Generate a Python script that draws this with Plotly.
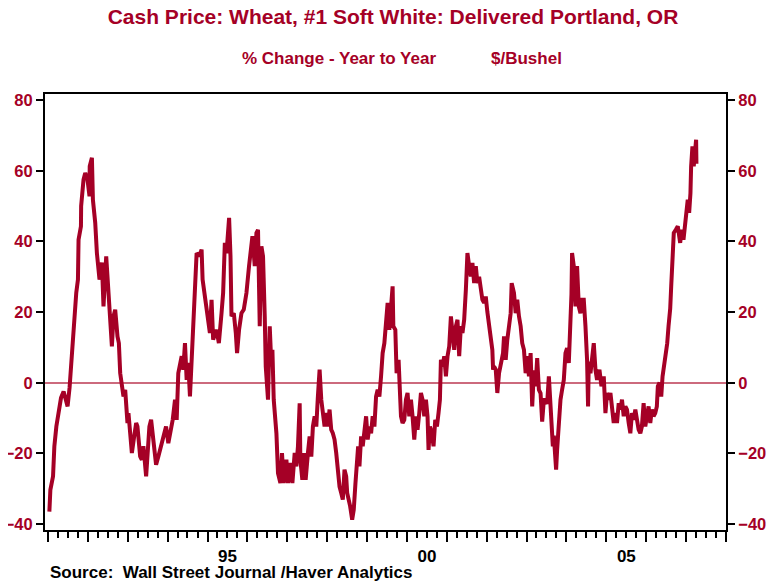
import pandas as pd
import plotly.graph_objects as go

# decimal-year positions and % change year-to-year values
t_dec = [
    1991.033, 1991.058, 1991.125, 1991.158, 1991.208, 1991.265, 1991.325, 1991.39, 1991.49, 1991.54,
    1991.575, 1991.6, 1991.64, 1991.66, 1991.708, 1991.75, 1991.765, 1991.825, 1991.83, 1991.89,
    1991.933, 1991.99, 1992.04, 1992.045, 1992.1, 1992.125, 1992.183, 1992.225, 1992.265, 1992.29,
    1992.35, 1992.39, 1992.458, 1992.515, 1992.558, 1992.6, 1992.64, 1992.683, 1992.74, 1992.775,
    1992.808, 1992.85, 1992.89, 1992.933, 1992.958, 1992.99, 1993.015, 1993.058, 1993.1, 1993.158,
    1993.208, 1993.24, 1993.275, 1993.308, 1993.35, 1993.39, 1993.458, 1993.49, 1993.54, 1993.583,
    1993.625, 1993.658, 1993.708, 1993.765, 1993.825, 1993.89, 1993.958, 1994.015, 1994.075, 1994.125,
    1994.183, 1994.225, 1994.265, 1994.308, 1994.35, 1994.39, 1994.433, 1994.475, 1994.515, 1994.558,
    1994.6, 1994.64, 1994.658, 1994.683, 1994.725, 1994.79, 1994.85, 1994.875, 1994.933, 1994.99,
    1995.058, 1995.1, 1995.14, 1995.225, 1995.283, 1995.35, 1995.39, 1995.433, 1995.475, 1995.54,
    1995.575, 1995.6, 1995.658, 1995.708, 1995.74, 1995.79, 1995.85, 1995.908, 1995.975, 1996.04,
    1996.125, 1996.183, 1996.225, 1996.265, 1996.308, 1996.35, 1996.39, 1996.433, 1996.458, 1996.515,
    1996.558, 1996.6, 1996.625, 1996.658, 1996.683, 1996.725, 1996.765, 1996.825, 1996.865, 1996.908,
    1996.975, 1997.015, 1997.075, 1997.125, 1997.183, 1997.225, 1997.265, 1997.308, 1997.325, 1997.375,
    1997.415, 1997.458, 1997.515, 1997.558, 1997.6, 1997.64, 1997.683, 1997.725, 1997.765, 1997.808,
    1997.85, 1997.89, 1997.933, 1997.975, 1998.015, 1998.058, 1998.1, 1998.14, 1998.183, 1998.225,
    1998.265, 1998.308, 1998.35, 1998.39, 1998.433, 1998.475, 1998.5, 1998.54, 1998.575, 1998.625,
    1998.665, 1998.708, 1998.74, 1998.775, 1998.808, 1998.85, 1998.89, 1998.933, 1998.975, 1999.015,
    1999.058, 1999.1, 1999.14, 1999.183, 1999.225, 1999.265, 1999.308, 1999.35, 1999.39, 1999.433,
    1999.475, 1999.515, 1999.558, 1999.6, 1999.64, 1999.658, 1999.708, 1999.74, 1999.79, 1999.825,
    1999.85, 1999.89, 1999.933, 1999.975, 2000.015, 2000.058, 2000.1, 2000.14, 2000.183, 2000.225,
    2000.265, 2000.308, 2000.35, 2000.39, 2000.433, 2000.475, 2000.515, 2000.54, 2000.575, 2000.625,
    2000.665, 2000.708, 2000.75, 2000.79, 2000.825, 2000.85, 2000.89, 2000.933, 2000.975, 2001.015,
    2001.058, 2001.1, 2001.14, 2001.183, 2001.225, 2001.265, 2001.308, 2001.35, 2001.39, 2001.433,
    2001.475, 2001.515, 2001.558, 2001.6, 2001.64, 2001.683, 2001.725, 2001.765, 2001.808, 2001.85,
    2001.89, 2001.933, 2001.975, 2002.015, 2002.058, 2002.1, 2002.14, 2002.158, 2002.183, 2002.225,
    2002.265, 2002.308, 2002.375, 2002.408, 2002.433, 2002.475, 2002.515, 2002.558, 2002.6, 2002.625,
    2002.683, 2002.725, 2002.765, 2002.808, 2002.85, 2002.89, 2002.933, 2002.975, 2003.015, 2003.058,
    2003.1, 2003.14, 2003.183, 2003.225, 2003.265, 2003.308, 2003.35, 2003.39, 2003.433, 2003.475,
    2003.515, 2003.558, 2003.6, 2003.625, 2003.658, 2003.683, 2003.708, 2003.74, 2003.765, 2003.79,
    2003.825, 2003.85, 2003.89, 2003.933, 2003.975, 2004.015, 2004.058, 2004.1, 2004.125, 2004.14,
    2004.183, 2004.225, 2004.265, 2004.308, 2004.35, 2004.39, 2004.433, 2004.475, 2004.515, 2004.54,
    2004.558, 2004.6, 2004.64, 2004.683, 2004.725, 2004.765, 2004.825, 2004.875, 2004.933, 2004.975,
    2005.015, 2005.058, 2005.1, 2005.14, 2005.183, 2005.225, 2005.265, 2005.308, 2005.35, 2005.39,
    2005.433, 2005.475, 2005.515, 2005.558, 2005.6, 2005.64, 2005.683, 2005.725, 2005.765, 2005.808,
    2005.85, 2005.89, 2005.933, 2005.975, 2006.015, 2006.058, 2006.1, 2006.14, 2006.183, 2006.225,
    2006.265, 2006.29, 2006.333, 2006.375, 2006.408, 2006.458, 2006.49, 2006.525, 2006.558, 2006.6,
    2006.625, 2006.658, 2006.69, 2006.74, 2006.79, 2006.85, 2006.89, 2006.933, 2006.975, 2007.015,
    2007.04, 2007.075, 2007.108, 2007.125, 2007.158, 2007.19, 2007.225, 2007.25, 2007.258,
]
pct_change = [
    -36.5, -30.3, -26.5, -18.0, -12.4, -8.5, -4.3, -2.5, -6.7, -1.4,
    4.6, 10.3, 14.0, 17.0, 25.5, 29.2, 40.5, 44.3, 50.0, 57.5,
    59.4, 57.5, 52.8, 61.3, 63.7, 51.8, 45.3, 36.7, 33.0, 29.2,
    34.0, 21.6, 35.8, 24.4, 19.7, 10.3, 18.8, 20.7, 13.1, 11.2,
    2.7, -2.0, -3.9, -2.0, -6.7, -11.4, -8.6, -13.3, -19.9, -15.2,
    -11.4, -12.4, -18.0, -20.9, -21.8, -18.0, -26.5, -19.0, -12.4, -10.5,
    -15.2, -19.9, -23.2, -20.9, -18.0, -16.1, -12.4, -17.1, -13.3, -10.5,
    -4.8, -10.5, 2.7, 5.6, 7.5, 3.7, 11.2, 0.8, 5.6, -3.9,
    8.0, 14.1, 19.7, 29.2, 36.7, 35.8, 37.7, 29.2, 24.4, 19.7,
    14.1, 23.5, 12.2, 15.0, 11.2, 19.7, 25.4, 39.6, 36.7, 46.7,
    35.8, 18.8, 19.7, 14.1, 8.4, 15.0, 19.7, 20.7, 25.4, 33.0,
    41.5, 33.0, 42.4, 43.3, 16.0, 38.6, 35.8, 18.8, 4.6, -4.8,
    16.0, 4.6, 9.3, -4.8, -8.6, -14.3, -25.6, -28.4, -19.9, -28.4,
    -21.8, -28.4, -22.7, -28.4, -19.9, -23.7, -18.0, -5.8, -21.8, -27.5,
    -19.9, -27.5, -19.9, -15.2, -20.9, -12.4, -9.5, -12.4, -3.9, 3.7,
    -4.8, -7.6, -12.4, -8.6, -12.4, -7.6, -13.3, -14.3, -16.1, -19.9,
    -25.6, -29.4, -31.2, -33.1, -24.6, -26.5, -31.2, -33.1, -35.0, -38.8,
    -36.0, -28.4, -22.7, -18.0, -23.7, -15.2, -18.0, -13.3, -9.5, -16.1,
    -12.4, -14.3, -9.5, -12.4, -3.9, -2.0, -3.9, 1.8, 8.4, 11.2,
    16.0, 22.6, 15.0, 23.5, 27.3, 16.0, 15.0, 2.7, 6.5, -2.9,
    -9.5, -11.4, -10.5, -4.8, -2.9, -9.5, -4.8, -9.5, -16.1, -9.5,
    -13.3, -8.6, -2.9, -4.8, -9.5, -4.8, -9.5, -19.0, -12.4, -14.3,
    -18.0, -10.5, -12.4, -8.6, -4.8, 6.5, 4.6, 7.5, 1.8, 7.5,
    10.3, 18.8, 14.1, 9.3, 16.0, 17.8, 7.5, 16.0, 14.1, 17.8,
    26.3, 36.7, 33.0, 30.1, 33.9, 28.2, 33.0, 28.2, 30.0, 26.3,
    23.5, 22.6, 24.4, 20.0, 16.0, 13.0, 9.3, 3.7, 4.6, 3.7,
    -2.9, 2.7, 6.5, 8.4, 13.1, 6.5, 12.2, 16.0, 19.7, 28.2,
    25.4, 19.7, 23.5, 18.8, 16.0, 11.2, 9.3, 2.7, 7.5, 1.8,
    8.4, -6.7, 3.5, -1.0, 7.0, -2.0, -3.0, -11.0, -4.8, -5.0,
    -6.0, 1.8, -8.5, -14.3, -18.0, -15.0, -19.0, -24.6, -19.0, -14.3,
    -10.5, -4.8, -2.0, 0.8, 8.4, 9.8, 5.6, 16.0, 25.0, 36.7,
    33.0, 21.6, 33.0, 21.6, 19.7, 23.5, 23.5, 16.0, 6.5, -6.7,
    6.0, 2.7, 6.5, 11.2, 3.7, 0.8, 3.7, -1.0, 1.8, -8.6,
    -2.9, -4.8, -2.9, -7.6, -11.4, -8.6, -11.4, -5.8, -7.6, -4.8,
    -9.5, -6.7, -7.6, -11.4, -14.3, -8.6, -10.5, -7.6, -11.4, -13.3,
    -14.3, -12.4, -5.8, -12.4, -9.5, -6.7, -11.4, -7.6, -9.5, -8.6,
    -6.7, -1.0, 0.0, -3.9, 1.8, 5.6, 7.5, 11.2, 16.0, 21.0,
    27.3, 35.8, 42.4, 43.3, 44.3, 39.6, 43.3, 40.5, 45.2, 48.1,
    51.8, 48.1, 53.7, 61.3, 66.9, 61.3, 68.8, 68.8, 62.0,
]

y_ticks = [-40, -20, 0, 20, 40, 60, 80]
x_labels_shown = ["95", "00", "05"]
title_text = "Cash Price: Wheat, #1 Soft White: Delivered Portland, OR"
sub_left = "% Change - Year to Year"
sub_right = "$/Bushel"
source_text = "Source:  Wall Street Journal /Haver Analytics"

RED = "#A50026"
FONT = "Liberation Sans, Arial, sans-serif"

# the page body adds an 8px margin, so the figure is 770x576 inside a 778x584 window
W, H = 770, 576


def dec_to_date(d):
    y = int(d)
    start = pd.Timestamp(year=y, month=1, day=1)
    end = pd.Timestamp(year=y + 1, month=1, day=1)
    return start + (end - start) * (d - y)


dates = [dec_to_date(d) for d in t_dec]

# hide year labels other than 95, 00, 05
alias = {}
for yr in range(1990, 2010):
    s = f"{yr % 100:02d}"
    if s not in x_labels_shown:
        alias[s] = ""

fig = go.Figure()
fig.add_trace(go.Scatter(x=dates, y=pct_change, mode="lines",
                         line=dict(color=RED, width=4), hoverinfo="x+y",
                         showlegend=False))
fig.add_trace(go.Scatter(x=dates, y=pct_change, mode="lines", yaxis="y2",
                         line=dict(color="rgba(0,0,0,0)", width=0),
                         hoverinfo="skip", showlegend=False))

yrange = [-41.7, 81.75]
fig.update_layout(
    width=W, height=H,
    margin=dict(l=37, r=52, t=86, b=54),
    paper_bgcolor="white", plot_bgcolor="white",
    font=dict(family=FONT),
    title=dict(text=f"<b>{title_text}</b>", x=0.5, xref="container", xanchor="center",
               y=1 - 8.5 / H, yref="container", yanchor="middle",
               font=dict(size=21, color=RED, family=FONT)),
    xaxis=dict(
        type="date", range=["1990-12-04", "2008-01-01"], automargin=False,
        tick0="1991-01-01", dtick="M12", ticklabelmode="period", tickformat="%y",
        labelalias=alias,
        ticks="outside", ticklen=10, tickwidth=2, tickcolor="black",
        showline=True, linecolor="black", linewidth=2, mirror=True,
        showgrid=False, zeroline=False,
        tickfont=dict(size=17, color="black", family=FONT, weight="bold"),
        minor=dict(dtick="M3", tick0="1991-01-01", ticks="outside", ticklen=6,
                   tickwidth=1.5, tickcolor="black", showgrid=False),
    ),
    yaxis=dict(
        range=yrange, tickvals=y_ticks, automargin=False,
        ticks="outside", ticklen=7, tickwidth=2,
        tickcolor="black", showline=True, linecolor="black", linewidth=2,
        showgrid=False, zeroline=True, zerolinecolor="#CC6A7D", zerolinewidth=2,
        tickfont=dict(size=16.5, color=RED, family=FONT, weight="bold"),
    ),
    yaxis2=dict(
        range=yrange, tickvals=y_ticks, overlaying="y", side="right", automargin=False,
        ticks="outside", ticklen=7, tickwidth=2, tickcolor="black",
        showline=True, linecolor="black", linewidth=2,
        showgrid=False, zeroline=False,
        tickfont=dict(size=16.5, color=RED, family=FONT, weight="bold"),
    ),
)

fig.add_annotation(text=f"<b>{sub_left}</b>", xref="paper", yref="paper",
                   x=(240 - 45) / 681, y=(530 - 59) / 436, xanchor="left", yanchor="middle",
                   showarrow=False, font=dict(size=17, color=RED, family=FONT))
fig.add_annotation(text=f"<b>{sub_right}</b>", xref="paper", yref="paper",
                   x=(489 - 45) / 681, y=(530 - 59) / 436, xanchor="left", yanchor="middle",
                   showarrow=False, font=dict(size=17, color=RED, family=FONT))
fig.add_annotation(text=f"<b>{source_text}</b>", xref="paper", yref="paper",
                   x=(48 - 45) / 681, y=(530 - 572) / 436, xanchor="left", yanchor="middle",
                   showarrow=False, font=dict(size=17, color="black", family=FONT))

fig.write_html("out.html")
